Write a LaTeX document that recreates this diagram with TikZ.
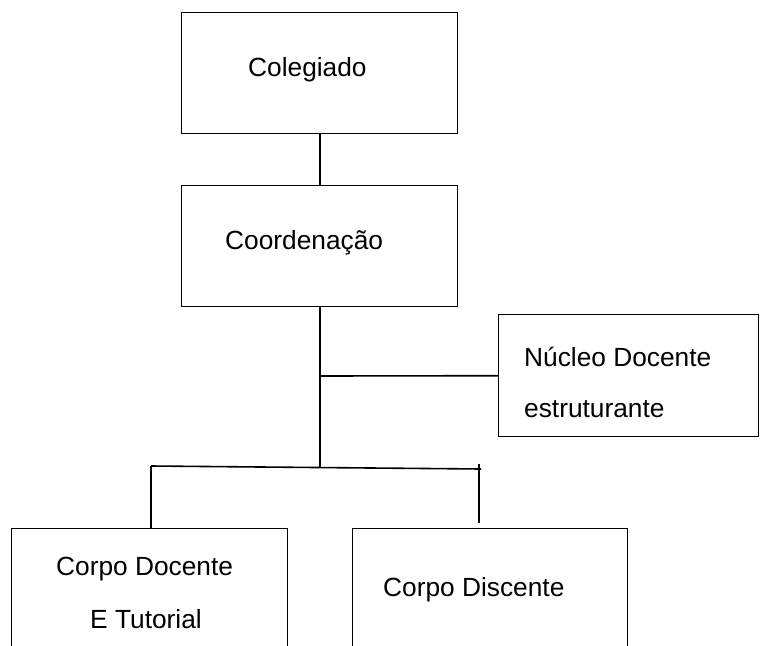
\documentclass[tikz,border=0pt]{standalone}
\usepackage{fontspec}
\setmainfont{Liberation Sans}
\begin{document}
\begin{tikzpicture}[x=1pt,y=-1pt,
  box/.style={draw,line width=1.4pt,rectangle,inner sep=0pt,anchor=north west},
  lbl/.style={anchor=base west,inner sep=0pt,font=\fontsize{26.3}{30}\selectfont},
  conn/.style={line width=1.6pt}]
\useasboundingbox (0,0) rectangle (762,645);
\clip (0,0) rectangle (762,645);
\fill[white] (0,0) rectangle (762,645);
% boxes
\node[box,minimum width=276pt,minimum height=121pt] (col) at (181,12) {};
\node[box,minimum width=276pt,minimum height=121pt] (coord) at (181,185) {};
\node[box,minimum width=260pt,minimum height=122pt] (nuc) at (498,314) {};
\node[box,minimum width=276pt,minimum height=160pt] (cdoc) at (11,528) {};
\node[box,minimum width=275pt,minimum height=160pt] (cdis) at (352,528) {};
% labels
\node[lbl] (tcol) at (248,76) {Colegiado};
\node[lbl] (tcoord) at (225,249) {Coordenação};
\node[lbl] (tnuc1) at (524,366) {Núcleo Docente};
\node[lbl] (tnuc2) at (524,417) {estruturante};
\node[lbl] (tcd1) at (56,575) {Corpo Docente};
\node[lbl] (tcd2) at (90,628) {E Tutorial};
\node[lbl] (tdis) at (383,596) {Corpo Discente};
% coordinates
\coordinate (trunkend) at (320,467);
\coordinate (tee) at (320,376);
\coordinate (barl) at (151,466);
\coordinate (barr) at (481,469);
\coordinate (rtop) at (479,464);
\coordinate (rbot) at (479,523);
% connectors
\draw[conn] (col.south) -- (coord.north);
\draw[conn] (coord.south -| trunkend) -- (trunkend);
\draw[conn] (tee) -- (nuc.west);
\draw[conn] (barl) -- (barr);
\draw[conn] (barl) -- (barl |- cdoc.north);
\draw[conn] (rtop) -- (rbot);
\end{tikzpicture}
\end{document}
